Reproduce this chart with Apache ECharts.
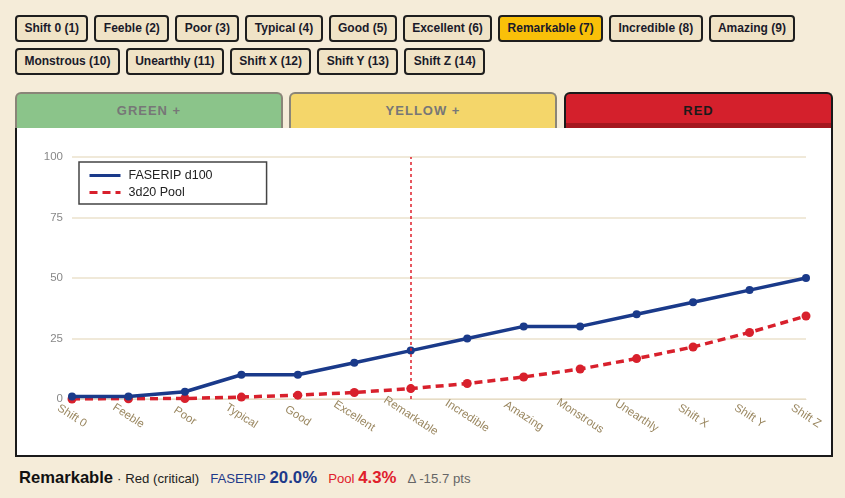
<!DOCTYPE html>
<html>
<head>
<meta charset="utf-8">
<script src="https://cdn.jsdelivr.net/npm/echarts@6/dist/echarts.min.js"></script>
<style>
  html, body { margin: 0; padding: 0; }
  body { width: 845px; height: 498px; background: #f5ecd9; font-family: "Liberation Sans", Arial, sans-serif; position: relative; overflow: hidden; }
  .btns { position: absolute; left: 15px; top: 15px; width: 820px; }
  .btn { display: inline-block; box-sizing: border-box; height: 27px; line-height: 23px; padding: 0 7.4px; margin: 0 6px 6px 0;
         border: 2px solid #1e1e1e; border-radius: 4px; background: #f0e3c6; color: #1a1a2a; font-weight: bold; font-size: 12px; }
  .btn.on { background: #f9c009; }
  .tab { position: absolute; top: 92px; height: 36px; box-sizing: border-box; border: 2px solid #8a8578; border-bottom: none;
         border-radius: 6px 6px 0 0; text-align: center; line-height: 34px; font-weight: bold; font-size: 13px; letter-spacing: 1px; color: #777; }
  .panel { position: absolute; left: 15px; top: 128px; width: 818px; height: 329px; box-sizing: border-box;
           border: 2px solid #1a1a1a; border-top: none; background: #fff; }
  #chart { position: absolute; left: 0; top: 0; width: 814px; height: 327px; }
  .foot { position: absolute; left: 19px; top: 468px; height: 20px; display: flex; align-items: baseline; font-size: 13.2px; color: #222; white-space: nowrap; }
  .foot b { font-size: 16.8px; }
</style>
</head>
<body>
<div class="btns" id="btns"></div>
<div class="tab" style="left:15px;width:268px;background:#8bc48a;">GREEN +</div>
<div class="tab" style="left:289px;width:268px;background:#f4d66a;">YELLOW +</div>
<div class="tab" style="left:564px;width:269px;background:#d4202c;border-color:#1a1a1a;color:#1a1a1a;box-shadow:inset 0 -5px 0 #a5171f;">RED</div>
<div class="panel"><div id="chart"></div></div>
<div class="foot">
  <b style="font-size:16.6px;color:#111;">Remarkable</b>
  <span style="color:#222;margin-left:4px;">·&nbsp;Red (critical)</span>
  <span style="color:#1e3a8a;margin-left:11px;">FASERIP&nbsp;<b>20.0%</b></span>
  <span style="color:#e0202c;margin-left:11px;">Pool&nbsp;<b>4.3%</b></span>
  <span style="color:#666;margin-left:11px;">Δ -15.7 pts</span>
</div>
<script>
var ranks = ['Shift 0','Feeble','Poor','Typical','Good','Excellent','Remarkable','Incredible','Amazing','Monstrous','Unearthly','Shift X','Shift Y','Shift Z'];
var faserip = [1, 1, 3, 10, 10, 15, 20, 25, 30, 30, 35, 40, 45, 50];
var pool = [0, 0.1, 0.2, 0.8, 1.6, 2.7, 4.3, 6.4, 9.1, 12.4, 16.7, 21.5, 27.5, 34.3];
var yTicks = [0, 25, 50, 75, 100];
var selected = 'Remarkable';

var btnBox = document.getElementById('btns');
ranks.forEach(function (r, i) {
  var b = document.createElement('span');
  b.className = 'btn' + (r === selected ? ' on' : '');
  b.textContent = r + ' (' + (i + 1) + ')';
  btnBox.appendChild(b);
  if (i === 8) btnBox.appendChild(document.createElement('br'));
});

var myChart = echarts.init(document.getElementById('chart'));
var option = {
  animation: false,
  grid: { left: 55, right: 25, top: 29, bottom: 56, outerBoundsMode: 'none', containLabel: false },
  legend: {
    orient: 'vertical', left: 62, top: 34,
    padding: [7, 54, 5, 9], itemGap: 4, itemWidth: 31, itemHeight: 14,
    backgroundColor: '#fff', borderColor: '#444', borderWidth: 1.5, borderRadius: 0,
    itemStyle: { opacity: 0 },
    lineStyle: { width: 3 },
    textStyle: { color: '#222', fontSize: 12.5, fontFamily: 'Liberation Sans', padding: [0, 0, 0, 3] },
    data: ['FASERIP d100', '3d20 Pool']
  },
  xAxis: {
    type: 'category', data: ranks, boundaryGap: false,
    axisLine: { lineStyle: { color: '#e6dcc6' } },
    axisTick: { show: false },
    axisLabel: { rotate: -33, align: 'center', verticalAlign: 'middle', color: '#9a8760', fontSize: 11.5, fontFamily: 'Liberation Sans', margin: 17, interval: 0 }
  },
  yAxis: {
    type: 'value', min: yTicks[0], max: yTicks[yTicks.length - 1], interval: 25,
    axisLine: { show: false }, axisTick: { show: false },
    axisLabel: { color: '#888', fontSize: 11.5, fontFamily: 'Liberation Sans', margin: 9 },
    splitLine: { lineStyle: { color: '#ebe2cc', width: 1.5 } }
  },
  series: [
    {
      name: 'FASERIP d100', type: 'line', data: faserip,
      symbol: 'circle', symbolSize: 8,
      lineStyle: { color: '#1a3a8a', width: 3.5 },
      itemStyle: { color: '#1a3a8a' },
      z: 3,
      markLine: {
        silent: true, symbol: 'none', label: { show: false },
        lineStyle: { color: '#e0202c', type: [3, 3], width: 1.5 },
        data: [{ xAxis: selected }]
      }
    },
    {
      name: '3d20 Pool', type: 'line', data: pool,
      symbol: 'circle', symbolSize: 9,
      lineStyle: { color: '#d8202c', width: 3.5, type: [8, 5] },
      itemStyle: { color: '#d8202c' },
      z: 2
    }
  ]
};
myChart.setOption(option);
</script>
</body>
</html>
